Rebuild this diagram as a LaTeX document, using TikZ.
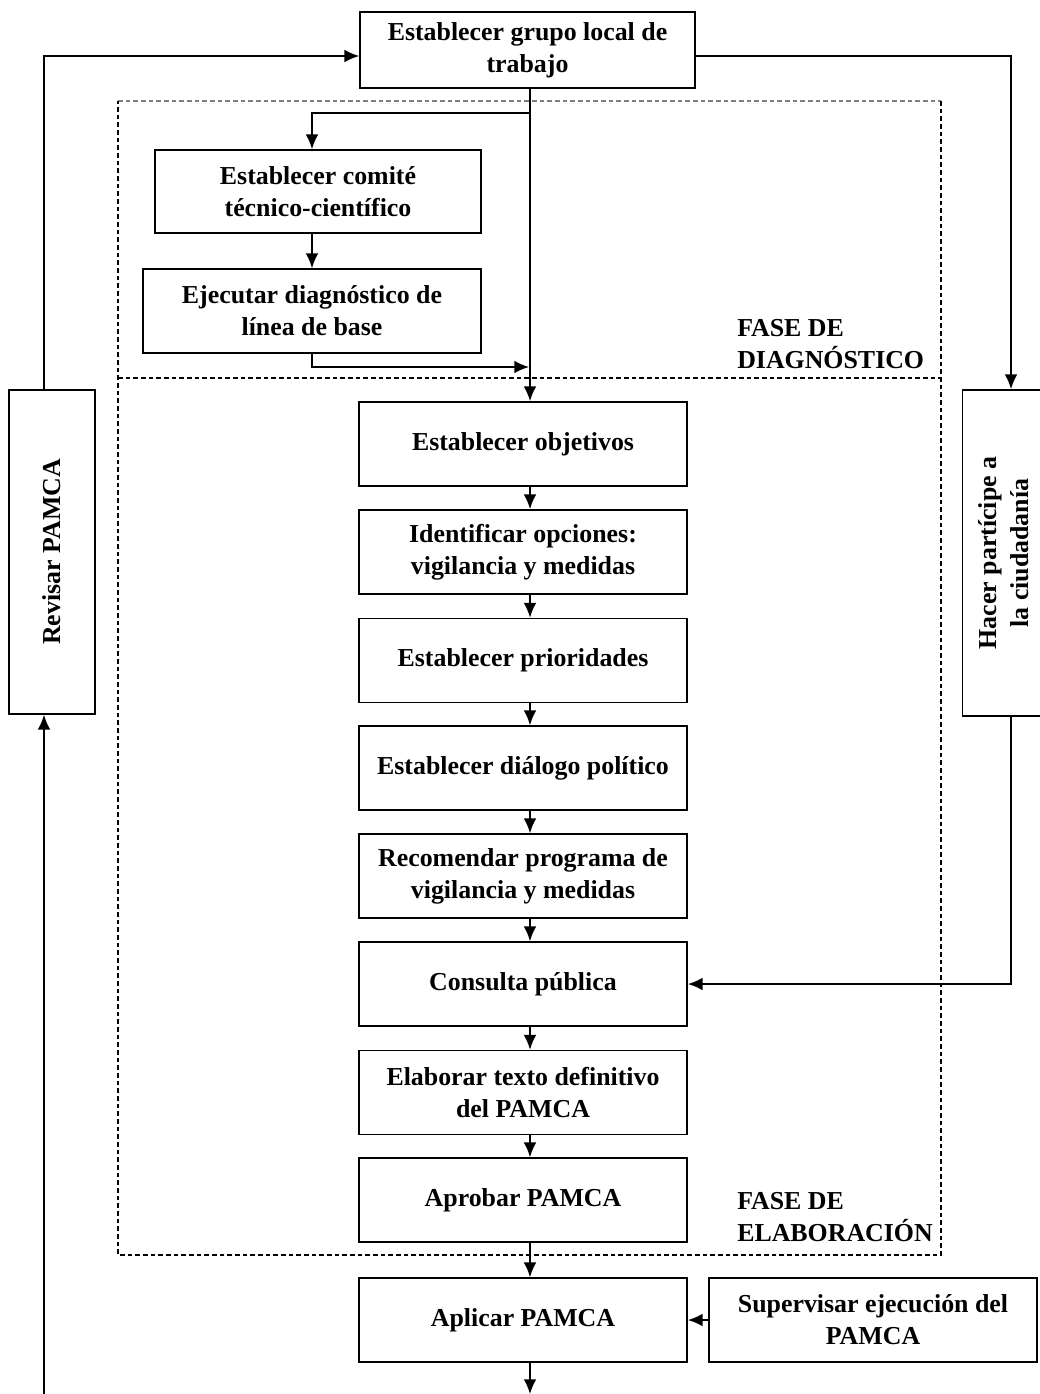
\documentclass[tikz,border=0pt]{standalone}
\usepackage{fontspec}
\setmainfont{Liberation Serif}
\usepackage{graphicx}
\usetikzlibrary{arrows.meta}

\begin{document}
\begin{tikzpicture}
  [x=0.75pt,y=-0.75pt,
   task/.style={draw,line width=1.3pt,align=center,inner sep=0pt,
     minimum width=246pt,minimum height=63pt,
     font=\bfseries\fontsize{19.4}{24}\selectfont},
   side/.style={task,minimum width=64.5pt,minimum height=243pt},
   phase/.style={line width=1pt,dash pattern=on 3.5pt off 2.25pt},
   phasetext/.style={align=left,anchor=west,inner sep=0pt,
     font=\bfseries\fontsize{19.4}{24}\selectfont},
   link/.style={-{Latex[length=11pt,width=9.5pt]},line width=1.2pt}]
  \useasboundingbox (0,0) rectangle (1039,1394);

  % phase frames
  \draw [phase,gray] (118,101) -- (941,101);
  \draw [phase] (941,101) -- (941,1255) -- (118,1255) -- (118,101);
  \draw [phase] (118,378) -- (941,378);
  \node (fdiag) at (737,344) [phasetext] {FASE DE\\DIAGNÓSTICO};
  \node (felab) at (737,1217) [phasetext] {FASE DE\\ELABORACIÓN};

  \node (grupo) at (527.5,50) [task,minimum width=251.25pt,minimum height=57pt]
    {Establecer grupo local de\\trabajo};
  \node (comite) at (318,191.5) [task,minimum width=244.5pt,minimum height=62.25pt]
    {Establecer comité\\técnico-científico};
  \node (diag) at (312,311) [task,minimum width=253.5pt]
    {Ejecutar diagnóstico de\\línea de base};

  \node (obj) at (523,444) [task] {Establecer objetivos};
  \node (opc) at (523,552) [task] {Identificar opciones:\\vigilancia y medidas};
  \node (prio) at (523,660.5) [task] {Establecer prioridades};
  \node (dial) at (523,768) [task] {Establecer diálogo político};
  \node (recom) at (523,876) [task] {Recomendar programa de\\vigilancia y medidas};
  \node (cons) at (523,984) [task] {Consulta pública};
  \node (elab) at (523,1092.5) [task] {Elaborar texto definitivo\\del PAMCA};
  \node (aprob) at (523,1200) [task] {Aprobar PAMCA};
  \node (apl) at (523,1320) [task] {Aplicar PAMCA};
  \node (sup) at (873,1320) [task] {Supervisar ejecución del\\PAMCA};

  \node (rev) at (52,552) [side] {\rotatebox{90}{Revisar PAMCA}};
  \node (hacer) at (1006,553) [side,minimum width=65.25pt,minimum height=244.5pt]
    {\rotatebox{90}{\begin{tabular}{@{}c@{}}Hacer partícipe a\\la ciudadanía\end{tabular}}};

  \coordinate (spine) at (530,0);
  \coordinate (split) at (530,113);
  \coordinate (join) at (529,367);
  \coordinate (loop) at (44,1394);
  \coordinate (exit) at (530,1394);

  \draw [link] (grupo.south -| spine) to (obj.north -| spine);
  \draw [link] (split) -| (diag.center |- comite.north);
  \draw [link] (diag.center |- comite.south) to (diag.north);
  \draw [link] (diag.south) |- (join);

  \draw [link] (obj.south -| spine) to (opc.north -| spine);
  \draw [link] (opc.south -| spine) to (prio.north -| spine);
  \draw [link] (prio.south -| spine) to (dial.north -| spine);
  \draw [link] (dial.south -| spine) to (recom.north -| spine);
  \draw [link] (recom.south -| spine) to (cons.north -| spine);
  \draw [link] (cons.south -| spine) to (elab.north -| spine);
  \draw [link] (elab.south -| spine) to (aprob.north -| spine);
  \draw [link] (aprob.south -| spine) to (apl.north -| spine);
  \draw [link] (apl.south -| spine) to (exit);
  \draw [link] (sup.west) to (apl.east);

  \draw [link] ([xshift=-6pt]rev.north) |- ([yshift=-4.5pt]grupo.west);
  \draw [link] (loop) to (loop |- rev.south);
  \draw [link] ([yshift=-4.5pt]grupo.east) -| ([xshift=3.75pt]hacer.north);
  \draw [link] ([xshift=3.75pt]hacer.south) |- (cons.east);
\end{tikzpicture}
\end{document}
